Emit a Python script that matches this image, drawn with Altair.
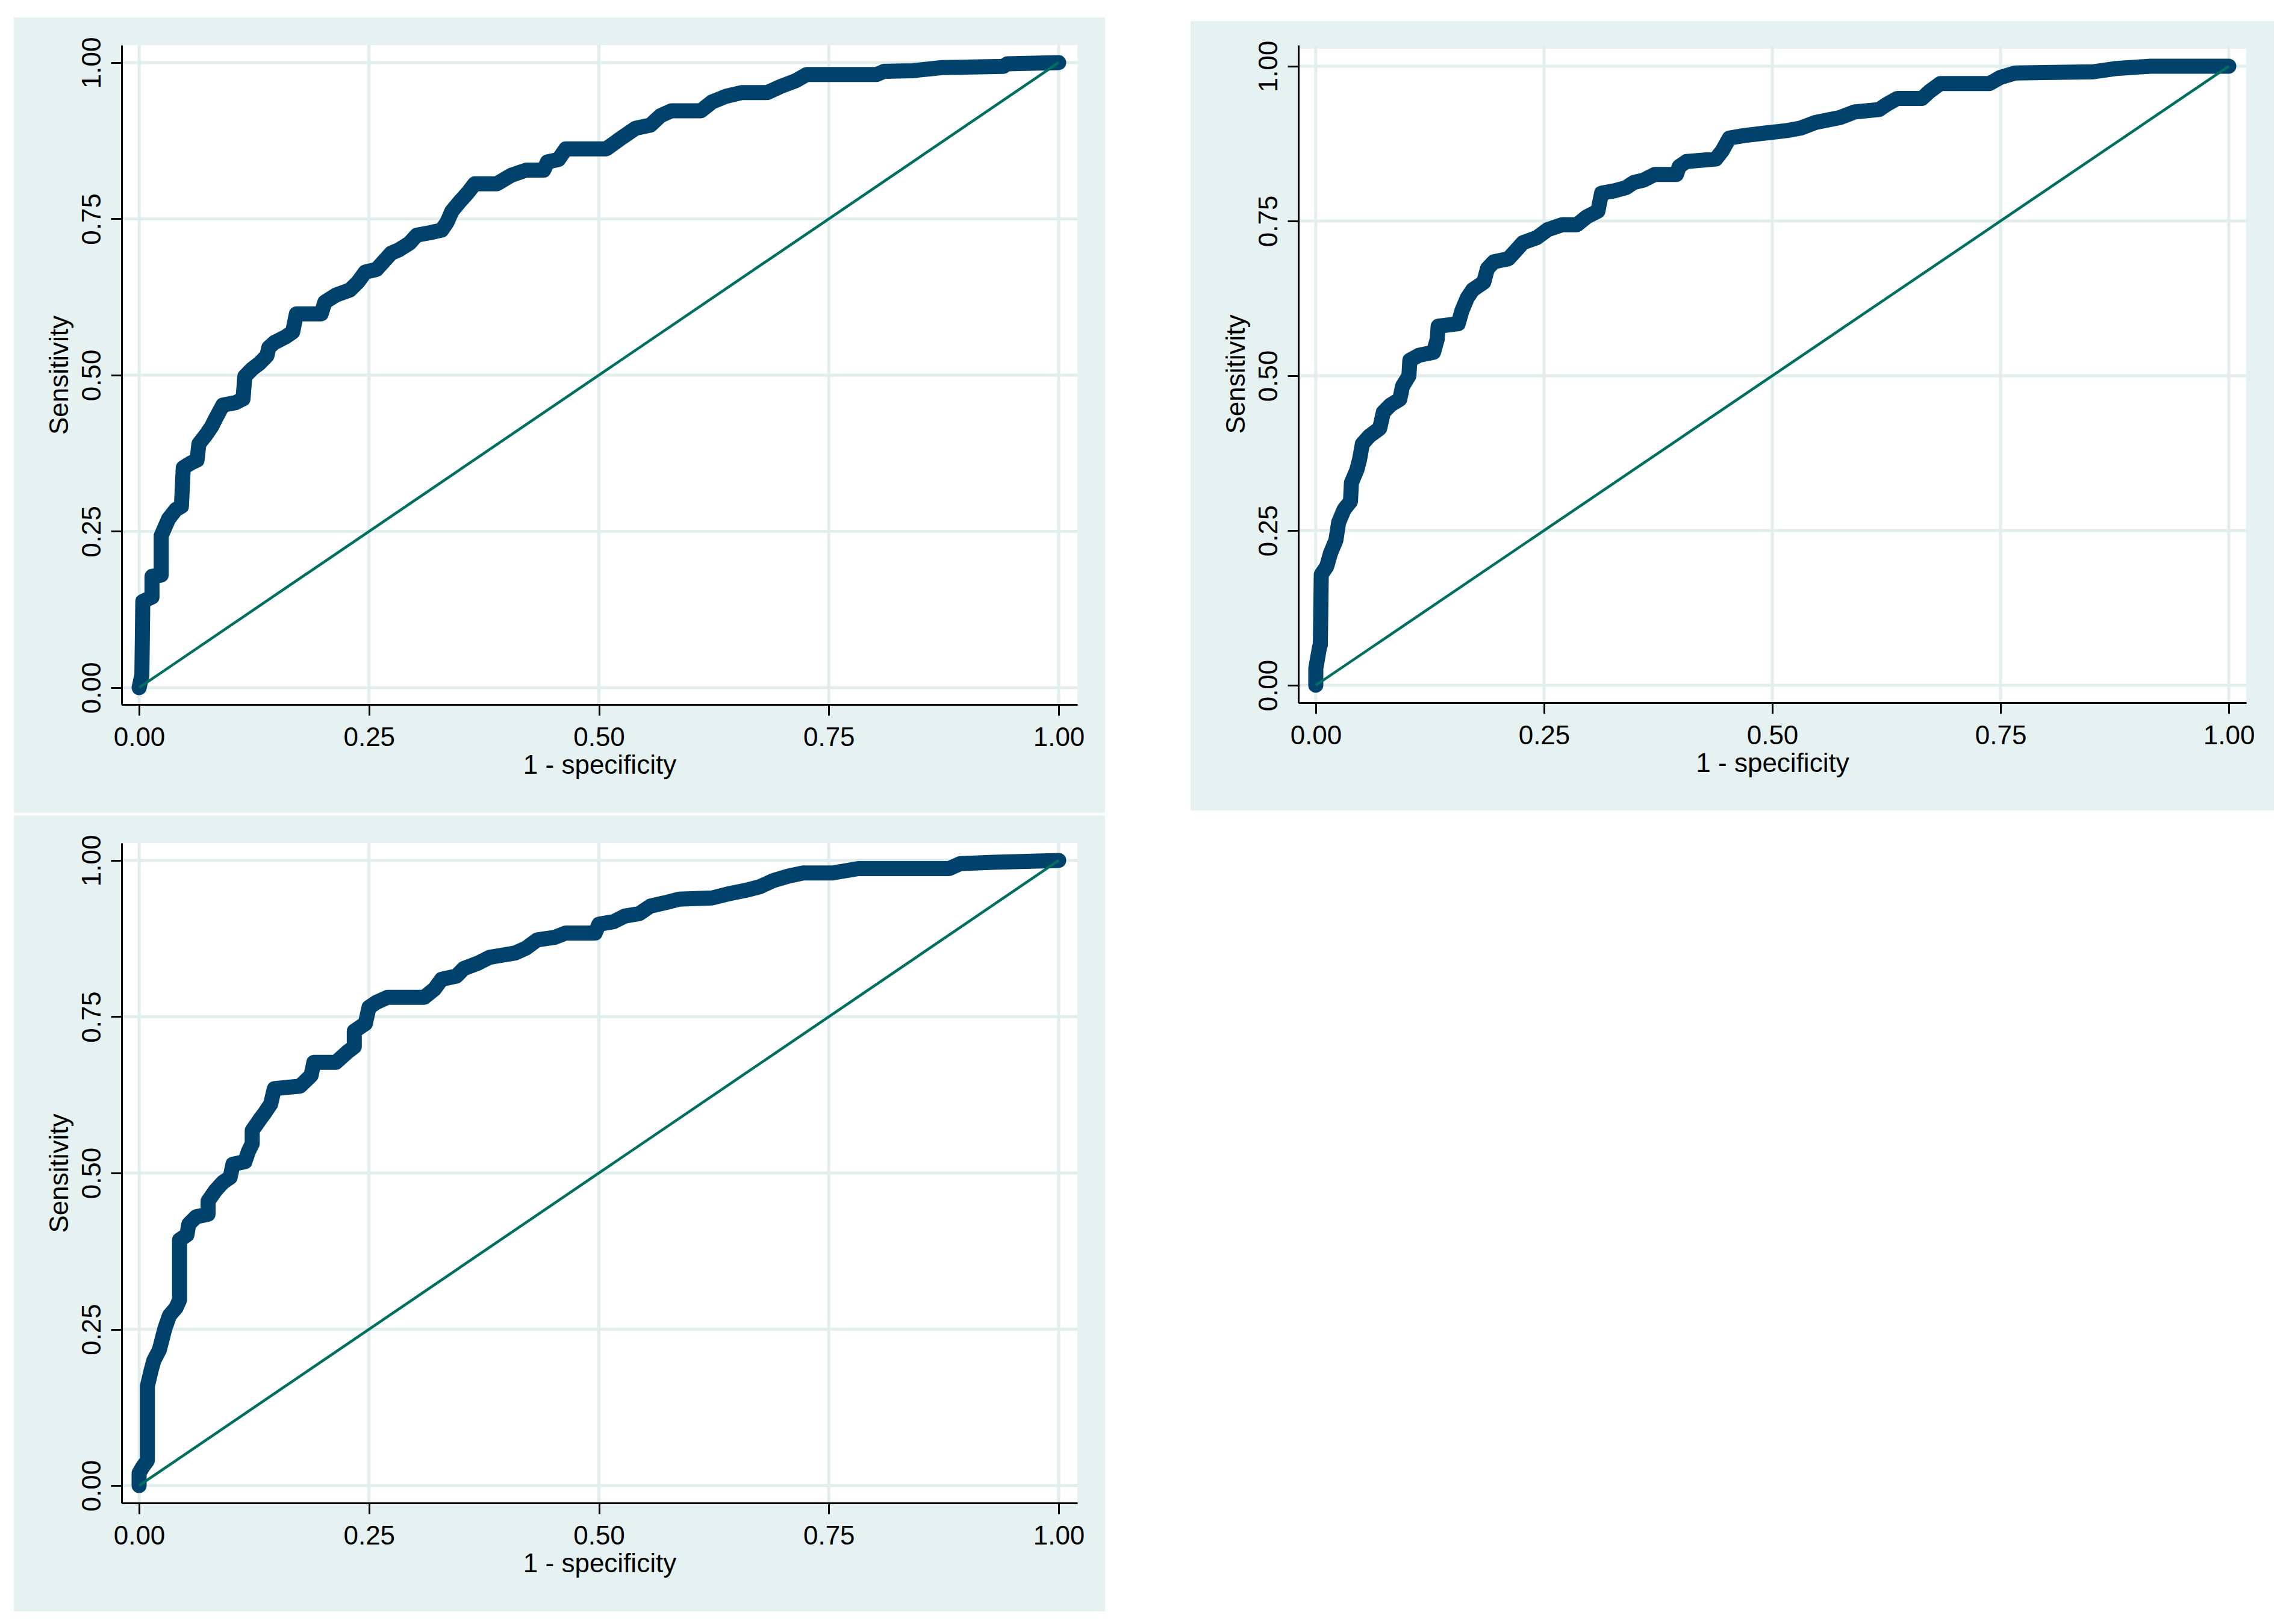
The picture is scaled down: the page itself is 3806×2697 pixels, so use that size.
import altair as alt
import pandas as pd

# ---- data (1 - specificity, sensitivity) ----
p1_fpr = [0.0, 0.003, 0.004, 0.014, 0.014, 0.024, 0.024, 0.032, 0.040, 0.046, 0.048, 0.057, 0.063, 0.065,
          0.073, 0.079, 0.083, 0.091, 0.105, 0.113, 0.115, 0.123, 0.131, 0.139, 0.141, 0.147, 0.159, 0.167,
          0.171, 0.198, 0.202, 0.214, 0.229, 0.238, 0.246, 0.258, 0.266, 0.274, 0.282, 0.294, 0.302, 0.317,
          0.329, 0.335, 0.340, 0.349, 0.357, 0.365, 0.389, 0.405, 0.421, 0.440, 0.444, 0.456, 0.464, 0.508,
          0.524, 0.540, 0.556, 0.567, 0.579, 0.611, 0.623, 0.638, 0.655, 0.683, 0.698, 0.714, 0.726, 0.802,
          0.810, 0.841, 0.873, 0.940, 0.944, 1.0]
p1_tpr = [0.0, 0.02, 0.138, 0.145, 0.178, 0.18, 0.243, 0.27, 0.285, 0.29, 0.352, 0.36, 0.364, 0.39,
          0.405, 0.418, 0.43, 0.452, 0.456, 0.462, 0.498, 0.51, 0.519, 0.531, 0.544, 0.552, 0.561, 0.569,
          0.598, 0.598, 0.617, 0.628, 0.636, 0.649, 0.665, 0.669, 0.682, 0.695, 0.70, 0.711, 0.724, 0.728,
          0.732, 0.745, 0.762, 0.778, 0.791, 0.806, 0.806, 0.82, 0.828, 0.828, 0.841, 0.845, 0.862, 0.862,
          0.879, 0.895, 0.90, 0.915, 0.923, 0.923, 0.937, 0.946, 0.952, 0.952, 0.962, 0.971, 0.981, 0.981,
          0.986, 0.987, 0.992, 0.994, 0.998, 1.0]

p2_fpr = [0.0, 0.0, 0.004, 0.005, 0.006, 0.012, 0.016, 0.022, 0.025, 0.031, 0.038, 0.039, 0.045, 0.048, 0.051,
          0.059, 0.070, 0.074, 0.082, 0.092, 0.095, 0.102, 0.103, 0.113, 0.129, 0.133, 0.134, 0.156, 0.160,
          0.166, 0.172, 0.184, 0.188, 0.195, 0.211, 0.219, 0.227, 0.242, 0.254, 0.270, 0.286, 0.297, 0.309,
          0.313, 0.328, 0.340, 0.348, 0.359, 0.371, 0.395, 0.398, 0.406, 0.438, 0.445, 0.453, 0.469, 0.492,
          0.516, 0.531, 0.547, 0.574, 0.590, 0.617, 0.625, 0.637, 0.664, 0.672, 0.684, 0.738, 0.750, 0.766,
          0.852, 0.875, 0.914, 1.0]
p2_tpr = [0.0, 0.027, 0.061, 0.065, 0.179, 0.192, 0.213, 0.234, 0.263, 0.284, 0.297, 0.327, 0.348, 0.365, 0.390,
          0.403, 0.415, 0.441, 0.453, 0.462, 0.483, 0.500, 0.525, 0.533, 0.538, 0.559, 0.580, 0.584, 0.605,
          0.626, 0.639, 0.651, 0.673, 0.684, 0.689, 0.702, 0.715, 0.723, 0.736, 0.744, 0.744, 0.757, 0.766,
          0.795, 0.799, 0.804, 0.812, 0.816, 0.825, 0.825, 0.838, 0.846, 0.850, 0.863, 0.884, 0.888, 0.892,
          0.896, 0.900, 0.909, 0.917, 0.926, 0.930, 0.938, 0.948, 0.948, 0.959, 0.972, 0.972, 0.982, 0.989,
          0.991, 0.996, 1.0, 1.0]

p3_fpr = [0.0, 0.0, 0.004, 0.009, 0.009, 0.013, 0.016, 0.022, 0.025, 0.028, 0.033, 0.040, 0.044, 0.044, 0.052,
          0.054, 0.062, 0.075, 0.075, 0.083, 0.091, 0.099, 0.102, 0.115, 0.119, 0.123, 0.123, 0.131, 0.137,
          0.143, 0.147, 0.175, 0.187, 0.190, 0.214, 0.226, 0.234, 0.234, 0.246, 0.250, 0.258, 0.270, 0.310,
          0.321, 0.329, 0.345, 0.353, 0.369, 0.381, 0.393, 0.409, 0.421, 0.433, 0.452, 0.464, 0.496, 0.500,
          0.516, 0.528, 0.544, 0.556, 0.571, 0.587, 0.623, 0.639, 0.659, 0.675, 0.690, 0.706, 0.722, 0.754,
          0.782, 0.881, 0.893, 0.929, 1.0]
p3_tpr = [0.0, 0.02, 0.03, 0.04, 0.159, 0.184, 0.200, 0.217, 0.234, 0.251, 0.272, 0.284, 0.297, 0.393, 0.401,
          0.418, 0.430, 0.434, 0.455, 0.472, 0.485, 0.493, 0.514, 0.518, 0.535, 0.547, 0.568, 0.585, 0.597,
          0.610, 0.635, 0.639, 0.656, 0.677, 0.677, 0.693, 0.702, 0.727, 0.739, 0.765, 0.773, 0.781, 0.781,
          0.794, 0.810, 0.815, 0.827, 0.836, 0.845, 0.848, 0.852, 0.860, 0.873, 0.877, 0.884, 0.884, 0.898,
          0.902, 0.911, 0.915, 0.927, 0.932, 0.938, 0.940, 0.946, 0.952, 0.958, 0.968, 0.975, 0.980, 0.980,
          0.987, 0.987, 0.995, 0.997, 1.0]

ref_x = [0.0, 1.0]
ref_y = [0.0, 1.0]
tick_values = [0.0, 0.25, 0.5, 0.75, 1.0]
x_title = "1 - specificity"
y_title = "Sensitivity"

# ---- style ----
NAVY = "#00426c"
TEAL = "#006f60"
BG = "#e6f1f1"
GRID = "#e2eeee"
FONT = "Liberation Sans"


def make_axis(title, which):
    kw = dict(values=tick_values, format=".2f", grid=False,
              domainColor="black", domainWidth=3, tickColor="black", tickWidth=3, tickSize=18,
              labelFont=FONT, labelFontSize=44, labelColor="black", labelOverlap=False, labelFlush=False,
              title=title, titleFont=FONT, titleFontSize=44, titleFontWeight="normal", titleColor="black",
              zindex=1)
    if which == "x":
        kw.update(labelPadding=15, titlePadding=2)
    else:
        kw.update(labelAngle=270, labelAlign="center", labelBaseline="alphabetic",
                  labelPadding=18, titlePadding=10)
    return alt.Axis(**kw)


def panel(fpr, tpr, w, h, xdom, ydom, top=-46, bottom=180, yoff=0):
    xs = alt.Scale(domain=xdom, nice=False, zero=False)
    ys = alt.Scale(domain=ydom, nice=False, zero=False)
    X = alt.X("x:Q", scale=xs, axis=make_axis(x_title, "x"))
    Y = alt.Y("y:Q", scale=ys, axis=make_axis(y_title, "y"))
    one = pd.DataFrame({"k": [0]})
    frame = alt.Chart(one).mark_rect(color=BG).encode(
        x=alt.value(-179), x2=alt.value(w + 46), y=alt.value(top), y2=alt.value(h + bottom))
    plotbg = alt.Chart(one).mark_rect(color="white").encode(
        x=alt.value(0), x2=alt.value(w), y=alt.value(yoff), y2=alt.value(h))
    vgrid = alt.Chart(pd.DataFrame({"x": tick_values})).mark_rule(color=GRID, strokeWidth=5).encode(x=X)
    hgrid = alt.Chart(pd.DataFrame({"y": tick_values})).mark_rule(color=GRID, strokeWidth=5).encode(y=Y)
    roc = alt.Chart(pd.DataFrame({"x": fpr, "y": tpr, "i": list(range(len(fpr)))})).mark_line(
        color=NAVY, strokeWidth=25, strokeCap="round", strokeJoin="round").encode(x=X, y=Y, order="i:Q")
    diag = alt.Chart(pd.DataFrame({"x": ref_x, "y": ref_y})).mark_line(
        color=TEAL, strokeWidth=4.5).encode(x=X, y=Y)
    return alt.layer(frame, plotbg, vgrid, hgrid, roc, diag).properties(width=w, height=h)


p1 = panel(p1_fpr, p1_tpr, 1587, 1095, [-0.0190, 1.0203], [-0.0270, 1.0279])
p2 = panel(p2_fpr, p2_tpr, 1574, 1092, [-0.0191, 1.0191], [-0.0282, 1.0340], top=-40, bottom=179, yoff=6)
p3 = panel(p3_fpr, p3_tpr, 1587, 1096, [-0.0190, 1.0203], [-0.0279, 1.0279])

chart = alt.concat(p1, p2, p3, columns=2, spacing={"row": 230, "column": 367}, bounds="flush").properties(
    padding={"left": 15, "top": 21, "right": 5, "bottom": 5}, background="white"
).configure_view(stroke=None)

chart.save("out.html", embed_options={"renderer": "svg", "actions": False})
